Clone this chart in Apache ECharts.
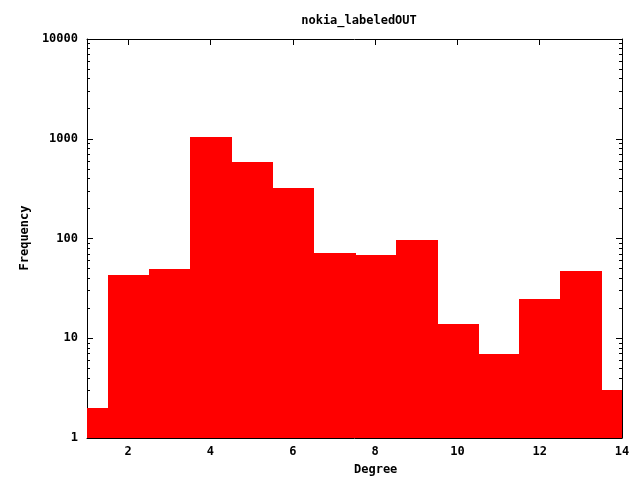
<!DOCTYPE html>
<html>
<head>
<meta charset="utf-8">
<script src="https://cdn.jsdelivr.net/npm/echarts@6/dist/echarts.min.js"></script>
<style>html,body{margin:0;padding:0;background:#fff}#c{width:640px;height:480px}</style>
</head>
<body>
<div id="c"></div>
<script>
var titleText = 'nokia_labeledOUT';
var xName = 'Degree';
var yName = 'Frequency';
var degrees = [1, 2, 3, 4, 5, 6, 7, 8, 9, 10, 11, 12, 13, 14];
var frequency = [2, 43, 49, 1050, 587, 322, 72, 69, 97, 14, 7, 25, 47, 3];
var xTicks = [2, 4, 6, 8, 10, 12, 14];
var yMajor = [1, 10, 100, 1000, 10000];
var yMinor = [];
for (var d = 1; d < 10000; d *= 10) { for (var k = 2; k <= 9; k++) yMinor.push(d * k); }

var font = {fontFamily: 'DejaVu Sans Mono', fontWeight: 'bold', fontSize: 12, color: '#000'};
var chart = echarts.init(document.getElementById('c'), null, {renderer: 'canvas'});

function xAxisDef(pos, showLabel) {
  return {
    type: 'value', position: pos, min: 1, max: 14,
    axisLine: {show: true, onZero: false, lineStyle: {color: '#000', width: 1}},
    axisTick: {show: true, inside: true, length: 6, customValues: xTicks, lineStyle: {color: '#000'}},
    axisLabel: Object.assign({show: showLabel, margin: 8, customValues: xTicks}, font),
    splitLine: {show: false}
  };
}
function yAxisDef(pos, minor, showLabel) {
  return {
    type: 'log', logBase: 10, position: pos, min: 1, max: 10000, offset: 0,
    axisLine: {show: !minor, onZero: false, lineStyle: {color: '#000', width: 1}},
    axisTick: {show: true, inside: true, length: minor ? 3 : 6, customValues: minor ? yMinor : yMajor, lineStyle: {color: '#000'}},
    axisLabel: Object.assign({show: showLabel, margin: 9, customValues: yMajor,
      formatter: function (v) { return String(Math.round(v)); }}, font),
    splitLine: {show: false}
  };
}

chart.setOption({
  animation: false,
  backgroundColor: '#fff',
  title: {text: titleText, left: 354, top: 10, textAlign: 'center',
    textStyle: {fontFamily: 'DejaVu Sans Mono', fontWeight: 'bold', fontSize: 12, color: '#000'}},
  grid: {left: 87, right: 18, top: 39, bottom: 42},
  xAxis: [xAxisDef('bottom', true), xAxisDef('top', false)],
  yAxis: [yAxisDef('left', false, true), yAxisDef('left', true, false), yAxisDef('right', false, false), yAxisDef('right', true, false)],
  graphic: [
    {type: 'text', left: 354, top: 464, style: {text: xName, align: 'center', fill: '#000', font: 'bold 12px "DejaVu Sans Mono"'}},
    {type: 'text', x: 25, y: 238, rotation: Math.PI / 2, style: {text: yName, align: 'center', verticalAlign: 'middle', fill: '#000', font: 'bold 12px "DejaVu Sans Mono"'}}
  ],
  series: [{
    type: 'custom',
    xAxisIndex: 0, yAxisIndex: 0,
    data: degrees.map(function (d, i) { return [d, frequency[i]]; }),
    renderItem: function (params, api) {
      var x = api.value(0), v = api.value(1);
      var p1 = api.coord([x - 0.5, v]);
      var p2 = api.coord([x + 0.5, 1]);
      var cs = params.coordSys;
      var x0 = Math.round(p1[0]), x1 = Math.round(p2[0]);
      var y0 = Math.round(p1[1]), y1 = Math.round(p2[1]);
      var r = echarts.graphic.clipRectByRect(
        {x: x0, y: y0, width: x1 - x0 + 1, height: y1 - y0},
        {x: cs.x, y: cs.y, width: cs.width, height: cs.height});
      if (!r) return null;
      return {type: 'rect', shape: r, style: {fill: '#ff0000'}};
    },
    z: 1
  }]
});
</script>
</body>
</html>
